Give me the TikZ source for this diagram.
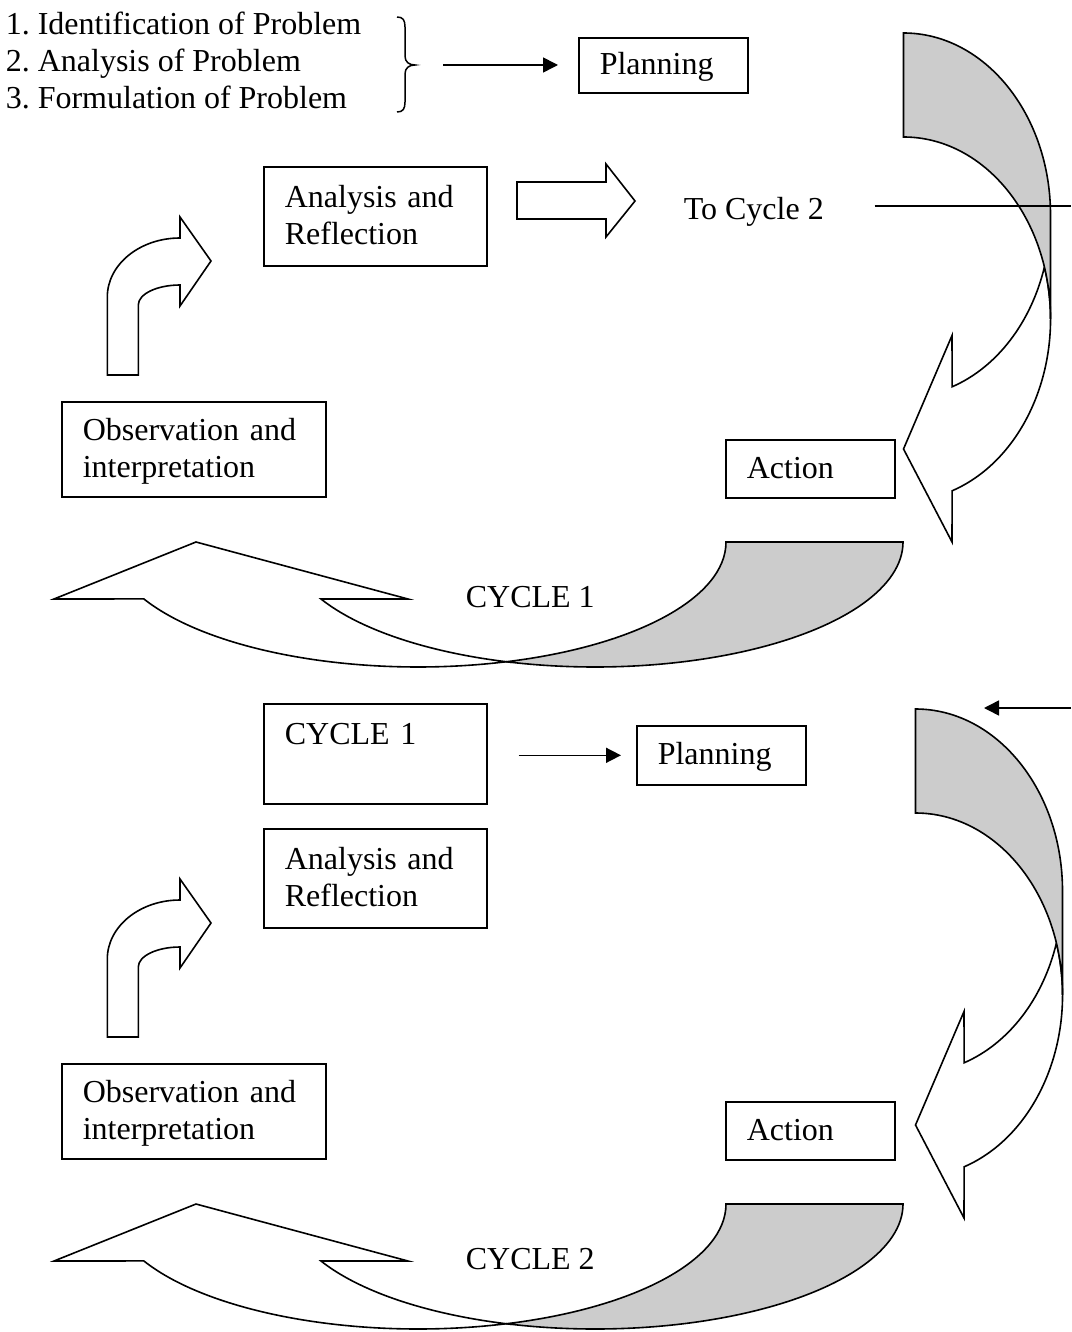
\documentclass[tikz,border=0pt]{standalone}
\usepackage{fontspec}
\setmainfont{Liberation Serif}
\usepackage{xcolor}
\usepackage{tikz}
\usetikzlibrary{
	arrows.meta,
	calc,
	positioning
}
\definecolor{shadegray}{gray}{0.8}
\newcommand{\lnstrut}{\rule[-7pt]{0pt}{33pt}}
\frenchspacing

\begin{document}
\begin{tikzpicture}[x=1pt, y=-1pt, line width=1.6pt,
		every node/.style={font=\fontsize{32}{37}\selectfont, inner sep=0pt},
		box/.style={draw, anchor=north west, align=left, inner xsep=21pt, inner ysep=0pt},
		conn/.style={-{Triangle[length=15pt, width=15pt]}},
		band/.style={draw, fill=white},
		backband/.style={draw, fill=shadegray}]
		\useasboundingbox (0,0) rectangle (1071,1332);
		% problem list with brace
		\node[anchor=north west, align=left] (probs) at (5,8) {\lnstrut 1. Identification of Problem\\\lnstrut 2. Analysis of Problem\\\lnstrut 3. Formulation of Problem};
		\draw[line width=1.5pt] (397,17) .. controls (403,17) and (405,20) .. (405,27) -- (405,56) .. controls (405,62) and (409,65) .. (415,65) .. controls (409,65) and (405,68) .. (405,74) -- (405,102) .. controls (405,109) and (403,112) .. (397,112);
		\coordinate (brc) at (415,65);
		\node[box, text width=127pt, minimum height=55pt] (plan1) at (578,37) {\lnstrut Planning};
		\draw[conn, shorten <=28pt, shorten >=20pt] (brc) -- (brc -| plan1.west);
		% cycle 1
		\node[box, text width=181pt, minimum height=99pt] (ar1) at (263,166) {\lnstrut Analysis and\\\lnstrut Reflection};
		\draw[band] (517,182) -- (606,182) -- (606,164) -- (635,201) -- (606,237) -- (606,219) -- (517,219) -- cycle;
		\node[anchor=base west] (tocyc) at (683,220) {To Cycle 2};
		\node[box, text width=222pt, minimum height=95pt] (obs1) at (61,401) {\lnstrut Observation and\\\lnstrut interpretation};
		\node[box, text width=127pt, minimum height=58pt] (act1) at (725,439) {\lnstrut Action};
		% bent arrow up
		\draw[band] (107.3,375) -- (107.3,297) arc[start angle=180, end angle=90, x radius=72.7pt, y radius=59pt] -- (180,217) -- (211,261) -- (180,306) -- (180,285) arc[start angle=90, end angle=180, x radius=41.7pt, y radius=20pt] -- (138.3,375) -- cycle;
		% curved arrow on the right
		\draw[band] (1044.4,267) arc[start angle=-16.6, end angle=-70.7, x radius=147pt, y radius=182pt] -- (952,335.5) -- (903.5,449) -- (952,542) -- (952.1,490.8) arc[start angle=-70.7, end angle=16.6, x radius=147pt, y radius=182pt] -- cycle;
		\draw[backband] (903.5,33) arc[start angle=90, end angle=0, x radius=147pt, y radius=182pt] -- (1050.5,319) arc[start angle=0, end angle=90, x radius=147pt, y radius=182pt] -- cycle;
		\coordinate (out1) at (1071,206);
		\draw[shorten <=50pt] (tocyc.east |- out1) -- (out1);
		% curved arrow at the bottom
		\draw[band] (506.5,661.7) arc[start angle=-73.3, end angle=-152.9, x radius=308pt, y radius=125pt] -- (54,599) -- (196,542) -- (408,599) -- (321,599) arc[start angle=-152.9, end angle=-106.7, x radius=308pt, y radius=125pt] -- cycle;
		\draw[backband] (726,542) -- (903,542) arc[start angle=0, end angle=-106.7, x radius=308pt, y radius=125pt] arc[start angle=-73.3, end angle=0, x radius=308pt, y radius=125pt] -- cycle;
		\node[anchor=base west] (cyclbl1) at (465,607) {CYCLE 1};
		% cycle 2
		\node[box, text width=181pt, minimum height=100pt] (cyc1) at (263,703) {\lnstrut CYCLE 1\\\lnstrut};
		\node[box, text width=127pt, minimum height=59pt] (plan2) at (636,725) {\lnstrut Planning};
		\draw[conn, shorten <=31pt, shorten >=15pt] (cyc1.east |- plan2) -- (plan2.west);
		\coordinate (in2) at (1071,708);
		\coordinate (in2tip) at (984,708);
		\draw[conn] (in2) -- (in2tip);
		\begin{scope}[shift={(0,662)}]
			\node[box, text width=181pt, minimum height=99pt] (ar2) at (263,166) {\lnstrut Analysis and\\\lnstrut Reflection};
			\node[box, text width=222pt, minimum height=95pt] (obs2) at (61,401) {\lnstrut Observation and\\\lnstrut interpretation};
			\node[box, text width=127pt, minimum height=58pt] (act2) at (725,439) {\lnstrut Action};
			\draw[band] (107.3,375) -- (107.3,297) arc[start angle=180, end angle=90, x radius=72.7pt, y radius=59pt] -- (180,217) -- (211,261) -- (180,306) -- (180,285) arc[start angle=90, end angle=180, x radius=41.7pt, y radius=20pt] -- (138.3,375) -- cycle;
			\draw[band] (506.5,661.7) arc[start angle=-73.3, end angle=-152.9, x radius=308pt, y radius=125pt] -- (54,599) -- (196,542) -- (408,599) -- (321,599) arc[start angle=-152.9, end angle=-106.7, x radius=308pt, y radius=125pt] -- cycle;
			\draw[backband] (726,542) -- (903,542) arc[start angle=0, end angle=-106.7, x radius=308pt, y radius=125pt] arc[start angle=-73.3, end angle=0, x radius=308pt, y radius=125pt] -- cycle;
			\node[anchor=base west] (cyclbl2) at (465,607) {CYCLE 2};
		\end{scope}
		\begin{scope}[shift={(12,676)}]
			\draw[band] (1044.4,267) arc[start angle=-16.6, end angle=-70.7, x radius=147pt, y radius=182pt] -- (952,335.5) -- (903.5,449) -- (952,542) -- (952.1,490.8) arc[start angle=-70.7, end angle=16.6, x radius=147pt, y radius=182pt] -- cycle;
			\draw[backband] (903.5,33) arc[start angle=90, end angle=0, x radius=147pt, y radius=182pt] -- (1050.5,319) arc[start angle=0, end angle=90, x radius=147pt, y radius=182pt] -- cycle;
		\end{scope}
\end{tikzpicture}
\end{document}
